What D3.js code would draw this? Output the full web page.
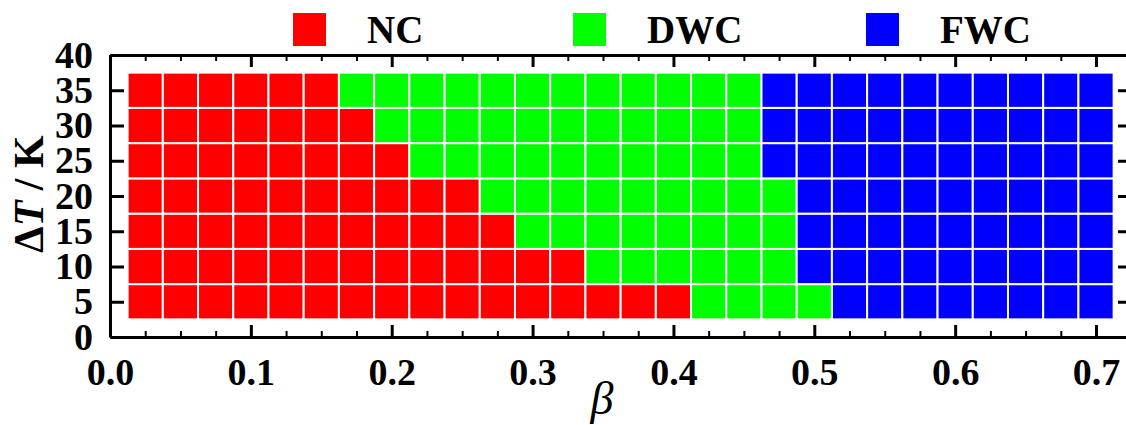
<!DOCTYPE html>
<html lang="en">
<head>
    <meta charset="UTF-8">
    <title>Regime map</title>
    <script src="https://d3js.org/d3.v7.min.js"></script>
    <style>
        body { margin: 0; background: #fff; }
        svg { display: block; font-family: "Liberation Serif", "Times New Roman", serif; }
    </style>
</head>
<body>
    <svg id="chart" width="1126" height="425"></svg>

    <script>
        // Grid of simulated cases
        const betas = [0.025, 0.05, 0.075, 0.1, 0.125, 0.15, 0.175, 0.2, 0.225, 0.25,
                       0.275, 0.3, 0.325, 0.35, 0.375, 0.4, 0.425, 0.45, 0.475, 0.5,
                       0.525, 0.55, 0.575, 0.6, 0.625, 0.65, 0.675, 0.7];
        const deltaTs = [5, 10, 15, 20, 25, 30, 35];
        // largest beta still in NC / DWC for each deltaT row
        const ncMaxBeta  = [0.4, 0.325, 0.275, 0.25, 0.2, 0.175, 0.15];
        const dwcMaxBeta = [0.5, 0.475, 0.475, 0.475, 0.45, 0.45, 0.45];

        const regimes = ["NC", "DWC", "FWC"];
        const regimeColors = ["#ff0000", "#00ff00", "#0000ff"];

        const xTicks = [0.0, 0.1, 0.2, 0.3, 0.4, 0.5, 0.6, 0.7];
        const yTicks = [0, 5, 10, 15, 20, 25, 30, 35, 40];

        const svg = d3.select("#chart");
        const pLeft = 110, pRight = 1128, pTop = 55, pBottom = 337;

        const x = d3.scaleLinear().domain([0, 0.7227]).range([pLeft, pRight]);
        const y = d3.scaleLinear().domain([0, 40]).range([pBottom, pTop]);
        const color = d3.scaleOrdinal().domain(regimes).range(regimeColors);

        const dBeta = 0.025, dT = 5;

        // build cells
        const cells = [];
        deltaTs.forEach((t, i) => {
            betas.forEach(b => {
                let r = "FWC";
                if (b <= ncMaxBeta[i] + 1e-9) r = "NC";
                else if (b <= dwcMaxBeta[i] + 1e-9) r = "DWC";
                cells.push({ beta: b, dt: t, regime: r });
            });
        });

        svg.append("g").selectAll("rect")
            .data(cells)
            .enter()
            .append("rect")
            .attr("x", d => x(d.beta - dBeta / 2))
            .attr("y", d => y(d.dt + dT / 2))
            .attr("width", d => x(d.beta + dBeta / 2) - x(d.beta - dBeta / 2))
            .attr("height", d => y(d.dt - dT / 2) - y(d.dt + dT / 2))
            .attr("fill", d => color(d.regime))
            .attr("stroke", "#fff")
            .attr("stroke-width", 2);

        // axes
        const minorX = d3.range(1, 29).map(i => i * 0.025).filter(v => Math.abs(v * 10 - Math.round(v * 10)) > 1e-6);
        const serif = "'Liberation Serif', 'Times New Roman', serif";

        function styleAxis(g, w) {
            g.select(".domain").attr("stroke-width", 3).attr("stroke", "#000");
            g.selectAll(".tick line").attr("stroke-width", w).attr("stroke", "#000");
        }

        // bottom
        svg.append("g").attr("transform", `translate(0,${pBottom})`)
            .call(d3.axisBottom(x).tickValues(minorX).tickSize(-6).tickSizeOuter(0).tickFormat(""))
            .call(g => styleAxis(g, 2));
        svg.append("g").attr("transform", `translate(0,${pBottom})`)
            .call(d3.axisBottom(x).tickValues(xTicks).tickSize(-12).tickSizeOuter(0).tickPadding(21).tickFormat(d3.format(".1f")))
            .call(g => styleAxis(g, 3))
            .call(g => g.selectAll("text").attr("font-size", 38).attr("font-weight", "bold").attr("fill", "#000")
                .attr("font-family", serif));

        // top
        svg.append("g").attr("transform", `translate(0,${pTop})`)
            .call(d3.axisTop(x).tickValues(minorX).tickSize(-6).tickSizeOuter(0).tickFormat(""))
            .call(g => styleAxis(g, 2));
        svg.append("g").attr("transform", `translate(0,${pTop})`)
            .call(d3.axisTop(x).tickValues(xTicks).tickSize(-12).tickSizeOuter(0).tickFormat(""))
            .call(g => styleAxis(g, 3));

        // left
        svg.append("g").attr("transform", `translate(${pLeft},0)`)
            .call(d3.axisLeft(y).tickValues(yTicks).tickSize(-14).tickSizeOuter(0).tickPadding(17))
            .call(g => styleAxis(g, 3))
            .call(g => g.selectAll(".tick").filter(d => d === 0 || d === 40).select("line").remove())
            .call(g => g.selectAll("text").attr("font-size", 38).attr("font-weight", "bold").attr("fill", "#000")
                .attr("font-family", serif));

        // right
        svg.append("g").attr("transform", `translate(${pRight},0)`)
            .call(d3.axisRight(y).tickValues(yTicks.slice(1, -1)).tickSize(-10).tickSizeOuter(0).tickFormat(""))
            .call(g => styleAxis(g, 3));

        // axis titles
        const yTitle = svg.append("text")
            .attr("transform", `translate(43,${(pTop + pBottom) / 2 - 2}) rotate(-90)`)
            .attr("text-anchor", "middle")
            .attr("font-size", 42)
            .attr("font-weight", "bold");
        yTitle.append("tspan").text("\u0394");
        yTitle.append("tspan").attr("font-style", "italic").text("T");
        yTitle.append("tspan").text(" / K");

        svg.append("text")
            .attr("x", 602)
            .attr("y", 414)
            .attr("text-anchor", "middle")
            .attr("font-size", 46)
            .attr("font-style", "italic")
            .text("\u03b2");

        // legend
        const legendX = [293, 573, 866];
        const legend = svg.append("g").selectAll("g")
            .data(regimes)
            .enter()
            .append("g")
            .attr("transform", (d, i) => `translate(${legendX[i]},13)`);
        legend.append("rect")
            .attr("width", 33)
            .attr("height", 33)
            .attr("fill", d => color(d));
        legend.append("text")
            .attr("x", 74)
            .attr("y", 30)
            .attr("font-size", 39)
            .attr("font-weight", "bold")
            .text(d => d);
    </script>
</body>
</html>
